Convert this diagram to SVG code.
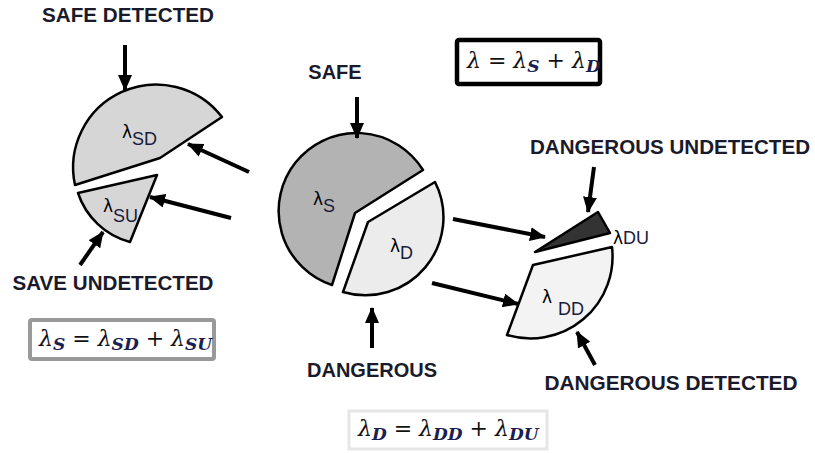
<svg xmlns="http://www.w3.org/2000/svg" width="815" height="453" viewBox="0 0 815 453">
<defs>
<marker id="ah" markerUnits="userSpaceOnUse" markerWidth="16" markerHeight="14" refX="15" refY="7" orient="auto">
<path d="M0,0 L16,7 L0,14 Z" fill="#000"/>
</marker>
<style>
.lbl{font-family:"Liberation Sans",Arial,sans-serif;font-weight:bold;font-size:20px;fill:#1a1a2a;text-anchor:middle}
.sec{stroke:#000;stroke-width:2.5;stroke-linejoin:round}
.arr{stroke:#000;stroke-width:4;fill:none;marker-end:url(#ah)}
.lam{font-family:"DejaVu Sans",sans-serif;font-size:17px;fill:#000}
.sub{font-family:"Liberation Sans",Arial,sans-serif;font-size:18px;fill:#1a1a3a}
.eq{font-family:"DejaVu Serif","Liberation Serif",serif;font-style:italic;font-size:22px;fill:#111}
.es{font-size:17px;font-weight:bold;fill:#1a2050}
</style>
</defs>
<rect width="815" height="453" fill="#fff"/>

<g id="safe">
<path class="sec" d="M355,213 L423,170 A78 78 0 1 0 332,285 Z" fill="#b3b3b3"/>
<text class="lam" x="313" y="205">λ<tspan class="sub" dy="7">S</tspan></text>
</g>
<g id="dangerous">
<path class="sec" d="M368,222 L435,182 A78 78 0 0 1 343,292 Z" fill="#ececec"/>
<text class="lam" x="390" y="252">λ<tspan class="sub" dy="7">D</tspan></text>
</g>
<g id="safe-detected">
<path class="sec" d="M75,185 L160,158 L222,117 A83 83 0 0 0 75,185 Z" fill="#d6d6d6"/>
<text class="lam" x="122" y="138">λ<tspan class="sub" dy="7">SD</tspan></text>
</g>
<g id="safe-undetected">
<path class="sec" d="M78,193 L157,175 L130,242 A75 75 0 0 1 78,193 Z" fill="#d6d6d6"/>
<text class="lam" x="103" y="212">λ<tspan class="sub" dy="10">SU</tspan></text>
</g>
<g id="dangerous-undetected">
<path class="sec" d="M535,252 L598,212 L610,233 Z" fill="#333"/>
<text class="lam" x="613" y="244">λ<tspan class="sub" font-size="17">DU</tspan></text>
</g>
<g id="dangerous-detected">
<path class="sec" d="M533,265 L612,247 A82 82 0 0 1 507,335 Z" fill="#f3f3f3"/>
<text class="lam" x="542" y="303">λ<tspan class="sub" dx="6" dy="12">DD</tspan></text>
</g>

<g id="labels">
<text class="lbl" x="128" y="22" textLength="172" lengthAdjust="spacingAndGlyphs">SAFE DETECTED</text>
<text class="lbl" x="335" y="79">SAFE</text>
<text class="lbl" x="113" y="290" textLength="201" lengthAdjust="spacingAndGlyphs">SAVE UNDETECTED</text>
<text class="lbl" x="372" y="377" textLength="130" lengthAdjust="spacingAndGlyphs">DANGEROUS</text>
<text class="lbl" x="670" y="154" textLength="280" lengthAdjust="spacingAndGlyphs">DANGEROUS UNDETECTED</text>
<text class="lbl" x="671" y="390" textLength="253" lengthAdjust="spacingAndGlyphs">DANGEROUS DETECTED</text>
</g>

<g id="formulas">
<rect x="457" y="40" width="143" height="44" fill="#fff" stroke="#000" stroke-width="4.5" rx="2"/>
<text class="eq" x="467" y="68" font-size="19.5">λ = λ<tspan class="es" font-size="15.5" dy="4">S</tspan><tspan dy="-4"> + λ</tspan><tspan class="es" font-size="15.5" dy="4">D</tspan></text>
<rect x="30" y="320" width="184" height="39" fill="#fff" stroke="#999" stroke-width="4" rx="2"/>
<text class="eq" x="39" y="346">λ<tspan class="es" dy="4">S</tspan><tspan dy="-4"> = λ</tspan><tspan class="es" dy="4">SD</tspan><tspan dy="-4"> + λ</tspan><tspan class="es" dy="4">SU</tspan></text>
<rect x="349" y="411" width="198" height="38" fill="#fff" stroke="#e6e6e6" stroke-width="3"/>
<text class="eq" x="358" y="436">λ<tspan class="es" dy="4">D</tspan><tspan dy="-4"> = λ</tspan><tspan class="es" dy="4">DD</tspan><tspan dy="-4"> + λ</tspan><tspan class="es" dy="4">DU</tspan></text>
</g>

<g id="connectors">
<line class="arr" x1="125" y1="45" x2="125" y2="90"/>
<line class="arr" x1="357" y1="97" x2="357" y2="138"/>
<line class="arr" x1="249" y1="172" x2="188" y2="144"/>
<line class="arr" x1="231" y1="218" x2="150" y2="197"/>
<line class="arr" x1="80" y1="265" x2="103" y2="232"/>
<line class="arr" x1="372" y1="348" x2="372" y2="308"/>
<line class="arr" x1="453" y1="219" x2="545" y2="237"/>
<line class="arr" x1="432" y1="283" x2="518" y2="304"/>
<line class="arr" x1="594" y1="167" x2="588" y2="212"/>
<line class="arr" x1="595" y1="365" x2="577" y2="332"/>
</g>
</svg>
